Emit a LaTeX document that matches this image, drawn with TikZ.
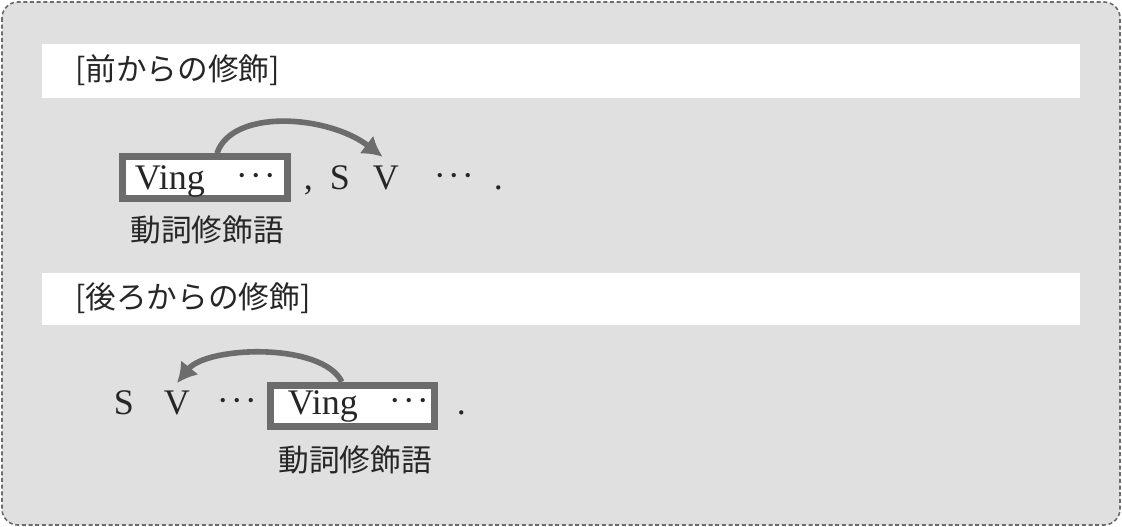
\documentclass[tikz,border=0pt]{standalone}
\usepackage{fontspec}
\setmainfont{Liberation Serif}
\newfontfamily\jpfont{Noto Sans CJK JP}
\usepackage{xcolor}
\usetikzlibrary{arrows.meta}
\definecolor{panelgray}{HTML}{E0E0E0}
\definecolor{framegray}{HTML}{6C6C6C}
\definecolor{inkgray}{HTML}{262626}
\newcommand{\middots}{\raisebox{1.5pt}{·\kern1.5pt·\kern1.5pt·}}

\begin{document}
\begin{tikzpicture}[x=0.75pt,y=-0.75pt,
    word/.style={anchor=base west, inner sep=2pt, text=inkgray, font=\fontsize{27}{30}\selectfont},
    jp/.style={inner sep=0pt, text=inkgray, font=\jpfont\fontsize{23}{26}\selectfont},
    vbox/.style={draw=framegray, line width=5.2pt, fill=white, minimum width=123.5pt, minimum height=31pt, inner sep=0pt},
    arr/.style={draw=framegray, line width=4.2pt, -{Latex[length=15pt,width=17pt]}}]
    \useasboundingbox (0,0) rectangle (1122,527);

    % panel and header bands
    \draw[framegray, line width=1.2pt, dash pattern=on 3pt off 2pt, rounded corners=12pt, fill=panelgray] (2,2) rectangle (1120,525);
    \fill[white] (42,44) rectangle (1080,98);
    \fill[white] (42,273) rectangle (1080,325);
    \node[jp, anchor=west] (hdrfront) at (75,70) {[前からの修飾]};
    \node[jp, anchor=west] (hdrback) at (75,298) {[後ろからの修飾]};

    % front modification
    \node[vbox] (box1) at (205,177.5) {};
    \node[word] (ving1) at (132,190) {Ving};
    \node[word] (dotsa) at (233,190) {\middots};
    \node[word] (comma1) at (301,190) {,};
    \node[word] (s1) at (327,190) {S};
    \node[word] (v1) at (370,190) {V};
    \node[word] (dotsb) at (431,190) {\middots};
    \node[word] (period1) at (491,190) {.};
    \node[jp] (label1) at (207,230) {動詞修飾語};
    \draw[arr] ([xshift=9pt]box1.north) .. controls +(15,-45) and +(-55,-42) .. ([xshift=-2.5pt,yshift=5pt]v1.north);

    % back modification
    \node[word] (s2) at (111,415) {S};
    \node[word] (v2) at (161,415) {V};
    \node[word] (dotsc) at (214,415) {\middots};
    \node[vbox] (box2) at (352.5,406) {};
    \node[word] (ving2) at (285,415) {Ving};
    \node[word] (dotsd) at (386,415) {\middots};
    \node[word] (period2) at (454,415) {.};
    \node[jp] (label2) at (355,460) {動詞修飾語};
    \draw[arr] ([xshift=-8pt]box2.north) .. controls +(-20,-40) and +(30,-37) .. ([yshift=4pt]v2.north);
\end{tikzpicture}
\end{document}
